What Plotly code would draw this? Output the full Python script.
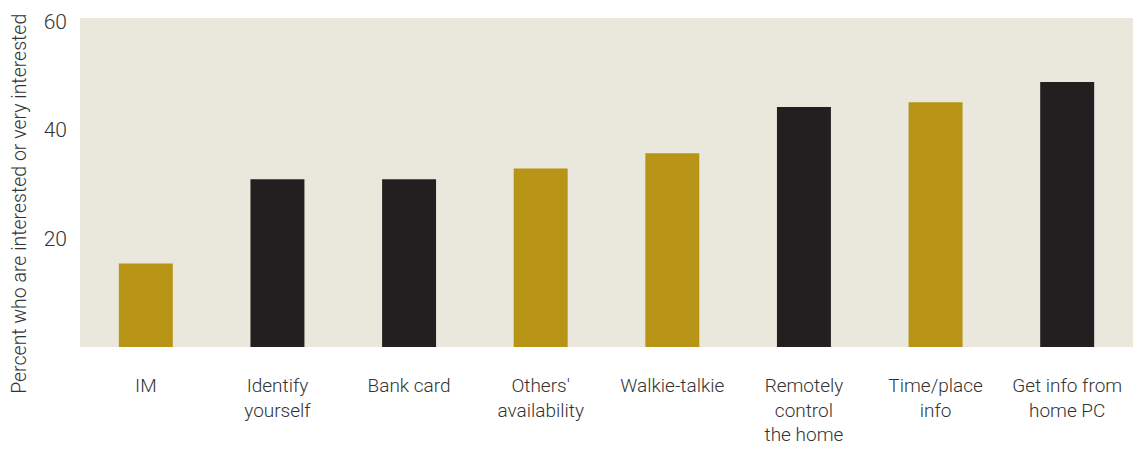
import plotly.graph_objects as go

categories = ["IM", "Identify<br>yourself", "Bank card", "Others'<br>availability",
              "Walkie-talkie", "Remotely<br>control<br>the home", "Time/place<br>info",
              "Get info from<br>home PC"]
values = [15.4, 30.9, 30.9, 32.9, 35.7, 44.2, 45.1, 48.8]
bar_colors = ["#B79415", "#231F20", "#231F20", "#B79415", "#B79415", "#231F20", "#B79415", "#231F20"]
y_ticks = [20, 40, 60]
y_title = "Percent who are interested or very interested"

fig = go.Figure(go.Bar(x=categories, y=values, marker=dict(color=bar_colors, line=dict(width=0)),
                       width=0.41))

font_family = "Roboto, sans-serif"
fig.update_layout(
    width=1137, height=450,
    margin=dict(l=80, r=4, t=18, b=103),
    paper_bgcolor="white",
    plot_bgcolor="#EAE7DD",
    showlegend=False,
    bargap=0.59,
    font=dict(family=font_family, size=19, color="#333333", weight=300),
)
fig.update_xaxes(showgrid=False, zeroline=False, showline=False, ticks="",
                 ticklabelstandoff=25, tickfont=dict(size=19, color="#333333", weight=300))
fig.update_yaxes(range=[0, 60.6], tickvals=y_ticks, showgrid=False, zeroline=False,
                 showline=False, ticks="", ticklabelstandoff=12,
                 tickfont=dict(size=21, color="#333333", weight=300))
fig.add_annotation(text=y_title, xref="paper", yref="paper", x=-0.057, y=0.435,
                   xanchor="center", yanchor="middle", textangle=-90, showarrow=False,
                   font=dict(size=19.5, color="#333333", weight=300))

fig.write_html("out.html")
